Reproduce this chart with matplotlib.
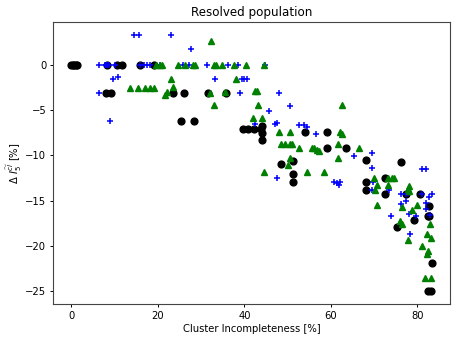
import matplotlib

matplotlib.use("Agg")
import matplotlib.pyplot as plt

# black circles
black_x = [0.0, 0.3, 0.7, 1.0, 1.4, 8.1, 9.2, 8.3, 10.6, 11.8, 15.8, 19.0,
           23.5, 26.0, 31.5, 35.8, 25.4, 28.4,
           39.6, 40.9, 42.3, 43.9, 44.1, 44.1, 44.0, 54.1, 59.1, 59.2, 63.6,
           48.4, 51.2, 51.2, 51.2, 68.1, 68.1, 68.1, 72.5, 72.5, 76.2, 77.4,
           80.7, 82.8, 82.5, 79.2, 75.2, 82.7, 83.3, 82.5, 83.1]
black_y = [0.0, 0.0, 0.0, 0.0, 0.0, -3.1, -3.1, 0.0, 0.0, 0.0, 0.0, 0.0,
           -3.1, -3.1, -3.1, -3.1, -6.2, -6.2,
           -7.1, -7.1, -7.1, -7.1, -6.8, -7.5, -8.3, -7.4, -7.4, -9.2, -9.2,
           -11.0, -10.6, -12.1, -12.9, -10.5, -12.9, -13.8, -12.5, -14.3, -10.7, -14.3,
           -14.3, -15.6, -16.7, -17.1, -17.9, -16.7, -21.9, -25.0, -25.0]

# blue plus
blue_x = [6.5, 7.7, 8.0, 8.2, 8.6, 10.2, 15.8, 16.7, 17.6, 18.2, 20.6,
          14.5, 15.7, 23.0, 27.7, 9.6, 10.9, 6.3, 8.85,
          25.9, 27.1, 31.3, 36.3, 38.5, 44.8, 33.3, 39.4, 40.0, 40.7,
          39.0, 48.0, 50.6, 45.7, 42.5, 47.0, 47.5, 52.7, 53.7, 54.4, 56.6,
          47.5, 60.8, 61.4, 61.8, 62.1, 65.3, 69.5, 69.5, 69.7, 69.5, 73.5,
          81.2, 82.1, 76.2, 77.5, 77.9, 77.5, 76.2, 81.1, 83.4, 82.6,
          82.0, 82.0, 82.9, 78.2, 79.7, 73.9, 78.3]
blue_y = [0.0, 0.0, 0.0, 0.0, 0.0, 0.0, 0.0, 0.0, 0.0, 0.0, 0.0,
          3.3, 3.3, 3.3, 1.7, -1.6, -1.4, -3.1, -6.2,
          0.0, 0.0, 0.0, 0.0, 0.0, 0.0, -1.6, -1.6, -1.6, -1.6,
          -3.1, -3.1, -4.6, -5.1, -6.5, -6.6, -6.4, -6.7, -6.7, -6.9, -7.7,
          -12.5, -12.9, -13.1, -13.3, -12.9, -10.1, -9.8, -11.4, -13.0, -13.8, -13.8,
          -11.5, -11.5, -14.3, -14.3, -14.2, -15.0, -15.4, -14.3, -14.3, -14.6,
          -15.3, -15.9, -16.6, -16.5, -16.7, -16.7, -18.7]

# green triangles
green_x = [19.6, 20.4, 21.0, 13.5, 15.3, 17.1, 18.1, 19.0, 21.7, 22.1, 23.1, 23.5,
           32.3, 24.6, 26.3, 28.1, 28.6, 32.9, 33.5, 34.8, 37.6, 40.4, 44.5,
           38.1, 32.0, 35.6, 42.5, 43.0, 33.0, 43.1, 42.1, 44.2,
           48.1, 50.6, 48.5, 49.5, 50.5, 51.0, 52.7, 55.6, 56.1, 56.8, 57.2,
           62.1, 62.5, 62.6, 61.6, 61.7, 50.5, 50.0, 44.5, 54.4, 58.5, 66.5,
           70.1, 70.6, 70.2, 73.3, 74.1, 74.7, 73.3, 70.6,
           78.0, 77.9, 78.2, 76.4, 78.8, 79.9, 76.1, 76.5, 83.0,
           77.8, 82.2, 83.1, 81.2, 82.5, 82.3, 81.9, 83.2]
green_y = [0.0, 0.0, 0.0, -2.6, -2.6, -2.6, -2.6, -2.6, -3.3, -3.0, -1.6, -2.5,
           2.6, 0.0, 0.0, 0.0, 0.0, 0.0, 0.0, 0.0, 0.0, 0.0, 0.0,
           -1.6, -3.1, -3.0, -2.9, -2.9, -4.5, -4.4, -5.9, -5.9,
           -7.4, -7.4, -8.8, -8.8, -8.8, -8.8, -9.2, -9.2, -9.2, -9.4, -9.5,
           -7.4, -7.7, -4.4, -8.8, -10.3, -10.3, -11.1, -11.8, -11.8, -11.8, -9.2,
           -12.5, -13.3, -13.85, -12.5, -12.5, -12.5, -13.3, -15.5,
           -13.4, -13.7, -13.9, -15.7, -16.0, -15.5, -17.2, -17.6, -17.6,
           -19.4, -18.7, -19.1, -20.0, -20.55, -20.9, -23.5, -23.5]

fig = plt.figure(figsize=(4.57, 3.41), dpi=100)
ax = fig.add_axes([0.1167, 0.1085, 0.868, 0.827])

ms = 4.9
ax.plot(black_x, black_y, "o", color="black", markersize=ms, linestyle="none")
ax.plot(blue_x, blue_y, "+", color="blue", markersize=ms, markeredgewidth=1.1, linestyle="none")
ax.plot(green_x, green_y, "^", color="green", markersize=ms, linestyle="none")

fs = 7.2
ax.set_title("Resolved population", fontsize=8.6, pad=4)
ax.set_xlabel("Cluster Incompleteness [%]", fontsize=fs, labelpad=2.5)
ax.set_ylabel(r"$\Delta\ I_5^{\widetilde{cl}}$ [%]", fontsize=fs, labelpad=1)
ax.set_xticks([0, 20, 40, 60, 80])
ax.set_yticks([0, -5, -10, -15, -20, -25])
ax.tick_params(labelsize=fs, length=2.5, width=0.7, pad=2.5)
for sp in ax.spines.values():
    sp.set_linewidth(0.8)
    sp.set_color("#444444")

fig.savefig("out.png", dpi=100)
